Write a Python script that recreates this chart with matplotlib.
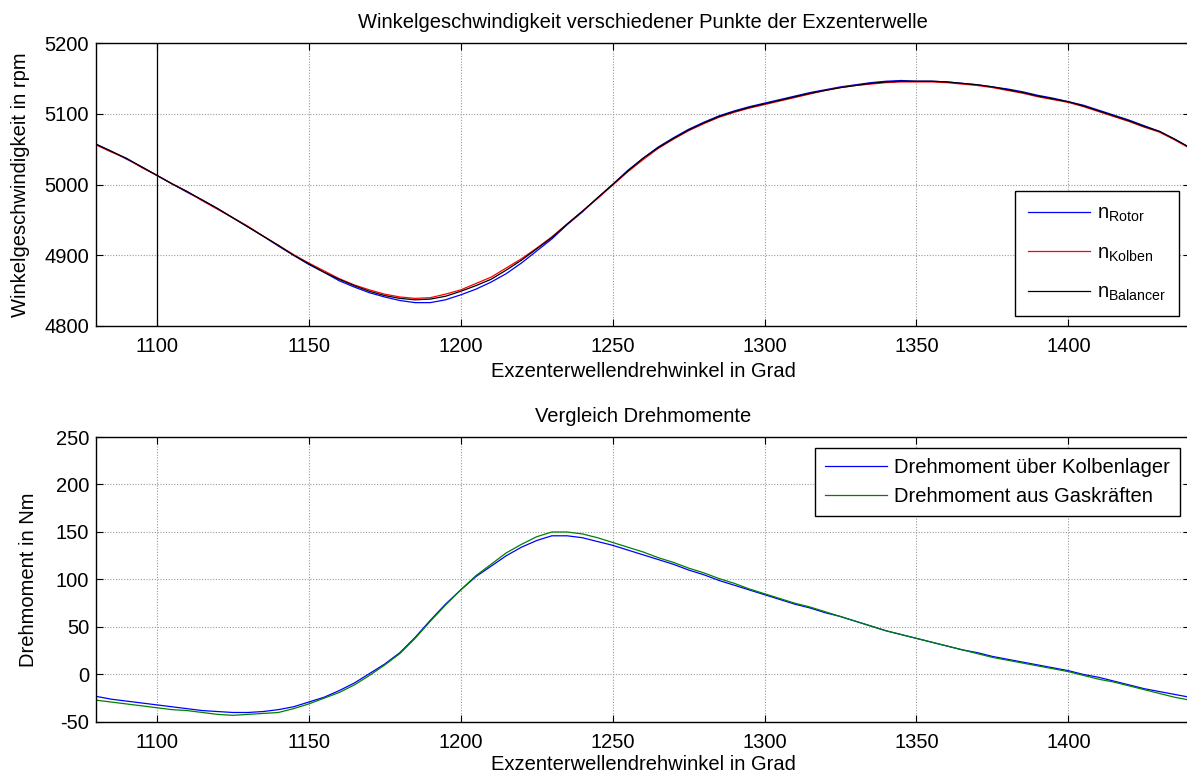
import matplotlib
matplotlib.use('Agg')
import matplotlib.pyplot as plt

plt.rcParams['font.family'] = ['Liberation Sans', 'DejaVu Sans']
plt.rcParams['mathtext.fontset'] = 'custom'
plt.rcParams['mathtext.rm'] = 'Liberation Sans'
plt.rcParams['mathtext.it'] = 'Liberation Sans:italic'
plt.rcParams['axes.unicode_minus'] = False

FS = 14.5

# Exzenterwellendrehwinkel in Grad, 5°-Raster von 1080 bis 1440
winkel = list(range(1080, 1445, 5))

# Winkelgeschwindigkeiten in rpm
n_rotor = [5057, 5047, 5036, 5025, 5013, 5001, 4989, 4978, 4966, 4953,
           4940, 4927, 4913, 4900, 4887, 4876, 4864, 4855, 4847, 4841,
           4836, 4833, 4833, 4837, 4844, 4852, 4862, 4874, 4889, 4906,
           4923, 4943, 4961, 4981, 5000, 5020, 5037, 5053, 5066, 5078,
           5088, 5097, 5104, 5110, 5115, 5120, 5125, 5130, 5134, 5138,
           5141, 5144, 5146, 5147, 5146, 5146, 5145, 5143, 5141, 5138,
           5135, 5131, 5126, 5122, 5117, 5112, 5105, 5098, 5091, 5083,
           5075, 5064, 5052]
n_kolben = [5056, 5046, 5037, 5024, 5013, 5001, 4990, 4977, 4965, 4953,
            4941, 4927, 4914, 4901, 4889, 4878, 4867, 4858, 4851, 4845,
            4841, 4839, 4840, 4845, 4851, 4860, 4869, 4882, 4895, 4910,
            4926, 4944, 4962, 4980, 4999, 5018, 5035, 5051, 5064, 5076,
            5086, 5095, 5102, 5108, 5113, 5118, 5123, 5128, 5133, 5137,
            5140, 5142, 5144, 5145, 5145, 5145, 5144, 5142, 5140, 5137,
            5133, 5129, 5124, 5120, 5116, 5110, 5103, 5096, 5089, 5081,
            5074, 5063, 5051]
n_balancer = [5057, 5047, 5037, 5025, 5013, 5001, 4990, 4978, 4966, 4953,
              4940, 4927, 4914, 4900, 4888, 4876, 4866, 4857, 4849, 4843,
              4839, 4837, 4838, 4842, 4849, 4857, 4866, 4879, 4893, 4909,
              4925, 4944, 4962, 4981, 5000, 5019, 5037, 5052, 5065, 5077,
              5087, 5096, 5103, 5109, 5114, 5119, 5124, 5129, 5133, 5137,
              5140, 5143, 5145, 5146, 5146, 5146, 5145, 5143, 5141, 5138,
              5134, 5130, 5125, 5121, 5117, 5111, 5104, 5097, 5090, 5082,
              5075, 5064, 5052]

# Drehmomente in Nm
m_kolbenlager = [-23, -26, -28, -30, -32, -34, -36, -38, -39, -40,
                 -40, -39, -37, -34, -29, -24, -17, -9, 1, 11,
                 23, 39, 57, 74, 89, 103, 114, 125, 134, 141,
                 146, 146, 144, 140, 136, 131, 126, 121, 116, 110,
                 105, 99, 94, 89, 84, 79, 74, 70, 65, 61,
                 56, 51, 46, 42, 38, 34, 30, 26, 23, 19,
                 16, 13, 10, 7, 4, 0, -3, -7, -11, -15,
                 -18, -21, -24]
m_gas = [-27, -29, -31, -33, -35, -37, -38, -40, -42, -43,
         -42, -41, -40, -36, -31, -25, -19, -11, -1, 10,
         22, 38, 56, 73, 89, 104, 116, 128, 137, 145,
         150, 150, 148, 144, 139, 134, 129, 123, 118, 112,
         107, 101, 96, 90, 85, 80, 75, 71, 66, 61,
         56, 51, 46, 42, 38, 34, 30, 26, 22, 18,
         15, 12, 9, 6, 3, -1, -5, -8, -12, -16,
         -20, -24, -27]

marker_winkel = 1100

x_ticks = [1100, 1150, 1200, 1250, 1300, 1350, 1400]
y1_ticks = [4800, 4900, 5000, 5100, 5200]
y2_ticks = [-50, 0, 50, 100, 150, 200, 250]


def style_axes(ax):
    ax.set_xlim(1080, 1440)
    ax.set_xticks(x_ticks)
    ax.tick_params(direction='in', top=True, right=True, length=5,
                   width=0.8, labelsize=FS)
    ax.tick_params(axis='x', pad=8)
    ax.tick_params(axis='y', pad=5)
    ax.grid(True, color='#9a9a9a', linestyle=(0, (1, 1.5)), linewidth=0.8)
    for sp in ax.spines.values():
        sp.set_linewidth(1.0)


fig = plt.figure(figsize=(11.87, 7.78), dpi=100)
ax1 = fig.add_axes([0.0809, 0.581, 0.9216, 0.3637])
ax2 = fig.add_axes([0.0809, 0.072, 0.9216, 0.3663])

# --- Winkelgeschwindigkeit ---
ax1.axvline(marker_winkel, color='black', linewidth=0.9)
ax1.plot(winkel, n_rotor, color='#0000ff', linewidth=0.9, label=r'n$_{\mathrm{Rotor}}$')
ax1.plot(winkel, n_kolben, color='#ff0000', linewidth=0.9, label=r'n$_{\mathrm{Kolben}}$')
ax1.plot(winkel, n_balancer, color='black', linewidth=0.9, label=r'n$_{\mathrm{Balancer}}$')
style_axes(ax1)
ax1.set_ylim(4800, 5200)
ax1.set_yticks(y1_ticks)
ax1.set_title('Winkelgeschwindigkeit verschiedener Punkte der Exzenterwelle',
              fontsize=FS, pad=11)
ax1.set_xlabel('Exzenterwellendrehwinkel in Grad', fontsize=FS, labelpad=4)
ax1.set_ylabel('Winkelgeschwindigkeit in rpm', fontsize=FS, labelpad=10)
leg1 = ax1.legend(loc='lower right', bbox_to_anchor=(0.990, 0.035),
                  borderaxespad=0, fontsize=FS, handlelength=3.1,
                  handletextpad=0.35, borderpad=0.65,
                  labelspacing=0.95, fancybox=False, framealpha=1,
                  edgecolor='black')
leg1.get_frame().set_linewidth(1.0)

# --- Drehmomente ---
ax2.plot(winkel, m_kolbenlager, color='#0000ff', linewidth=0.9,
         label='Drehmoment über Kolbenlager')
ax2.plot(winkel, m_gas, color='#008000', linewidth=0.9,
         label='Drehmoment aus Gaskräften')
style_axes(ax2)
ax2.set_ylim(-50, 250)
ax2.set_yticks(y2_ticks)
ax2.set_title('Vergleich Drehmomente', fontsize=FS, pad=11)
ax2.set_xlabel('Exzenterwellendrehwinkel in Grad', fontsize=FS, labelpad=2)
ax2.set_ylabel('Drehmoment in Nm', fontsize=FS, labelpad=13)
leg2 = ax2.legend(loc='upper right', bbox_to_anchor=(0.991, 0.961),
                  borderaxespad=0, fontsize=FS, handlelength=3.1,
                  handletextpad=0.35, borderpad=0.5,
                  labelspacing=0.5, fancybox=False, framealpha=1,
                  edgecolor='black')
leg2.get_frame().set_linewidth(1.0)

fig.savefig('out.png', dpi=100)
